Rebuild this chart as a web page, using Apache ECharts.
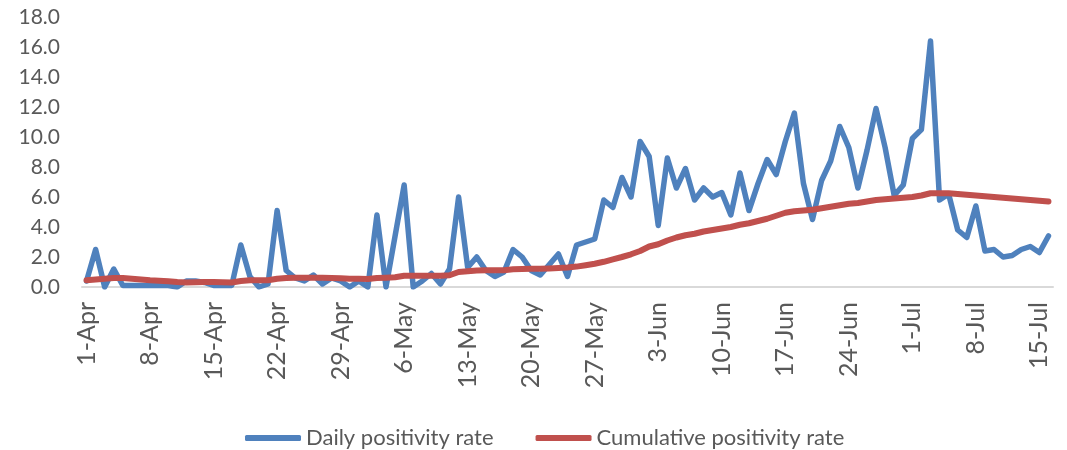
<!DOCTYPE html>
<html>
<head>
<meta charset="utf-8">
<script src="https://cdn.jsdelivr.net/npm/echarts@6/dist/echarts.min.js"></script>
<style>
html,body{margin:0;padding:0;background:#fff;}
#chart{width:1067px;height:450px;}
</style>
</head>
<body>
<div id="chart"></div>
<script>
var categories = [
 '1-Apr','2-Apr','3-Apr','4-Apr','5-Apr','6-Apr','7-Apr','8-Apr','9-Apr','10-Apr',
 '11-Apr','12-Apr','13-Apr','14-Apr','15-Apr','16-Apr','17-Apr','18-Apr','19-Apr','20-Apr',
 '21-Apr','22-Apr','23-Apr','24-Apr','25-Apr','26-Apr','27-Apr','28-Apr','29-Apr','30-Apr',
 '1-May','2-May','3-May','4-May','5-May','6-May','7-May','8-May','9-May','10-May',
 '11-May','12-May','13-May','14-May','15-May','16-May','17-May','18-May','19-May','20-May',
 '21-May','22-May','23-May','24-May','25-May','26-May','27-May','28-May','29-May','30-May','31-May',
 '1-Jun','2-Jun','3-Jun','4-Jun','5-Jun','6-Jun','7-Jun','8-Jun','9-Jun','10-Jun',
 '11-Jun','12-Jun','13-Jun','14-Jun','15-Jun','16-Jun','17-Jun','18-Jun','19-Jun','20-Jun',
 '21-Jun','22-Jun','23-Jun','24-Jun','25-Jun','26-Jun','27-Jun','28-Jun','29-Jun','30-Jun',
 '1-Jul','2-Jul','3-Jul','4-Jul','5-Jul','6-Jul','7-Jul','8-Jul','9-Jul','10-Jul',
 '11-Jul','12-Jul','13-Jul','14-Jul','15-Jul','16-Jul'
];

var dailyRate = [
 0.4,2.5,0.0,1.2,0.1,0.1,0.1,0.1,0.1,0.1,
 0.0,0.4,0.4,0.3,0.1,0.1,0.1,2.8,0.7,0.0,
 0.2,5.1,1.1,0.6,0.4,0.8,0.2,0.6,0.4,0.0,
 0.4,0.0,4.8,0.0,3.4,6.8,0.0,0.4,0.9,0.2,
 1.2,6.0,1.3,2.0,1.1,0.7,1.0,2.5,2.0,1.1,
 0.8,1.5,2.2,0.7,2.8,3.0,3.2,5.8,5.3,7.3,
 6.0,9.7,8.7,4.1,8.6,6.6,7.9,5.8,6.6,6.0,
 6.3,4.8,7.6,5.1,6.9,8.5,7.5,9.7,11.6,6.9,
 4.5,7.1,8.4,10.7,9.3,6.6,9.1,11.9,9.3,6.1,
 6.8,9.9,10.5,16.4,5.8,6.2,3.8,3.3,5.4,2.4,
 2.5,2.0,2.1,2.5,2.7,2.3,3.4
];

var cumulativeRate = [
 0.45,0.5,0.55,0.6,0.6,0.55,0.5,0.45,0.42,0.38,
 0.33,0.3,0.32,0.34,0.34,0.32,0.3,0.4,0.45,0.45,
 0.45,0.55,0.6,0.62,0.62,0.62,0.62,0.6,0.58,0.55,
 0.55,0.53,0.6,0.62,0.65,0.75,0.75,0.75,0.75,0.75,
 0.78,1.0,1.05,1.1,1.12,1.12,1.12,1.18,1.2,1.22,
 1.22,1.24,1.27,1.3,1.36,1.45,1.55,1.68,1.84,2.0,
 2.18,2.4,2.7,2.85,3.1,3.3,3.45,3.55,3.7,3.8,
 3.9,4.0,4.15,4.25,4.4,4.55,4.75,4.95,5.05,5.1,
 5.15,5.25,5.35,5.45,5.55,5.6,5.7,5.8,5.85,5.9,
 5.95,6.0,6.1,6.25,6.25,6.25,6.2,6.15,6.1,6.05,
 6.0,5.95,5.9,5.85,5.8,5.75,5.7
];

var seriesNames = ['Daily positivity rate', 'Cumulative positivity rate'];
var seriesColors = ['#4F81BD', '#C0504D'];

var FONT = 'Lato';
var chart = echarts.init(document.getElementById('chart'), null, {renderer: 'canvas'});
chart.setOption({
  animation: false,
  backgroundColor: '#ffffff',
  grid: {left: 82, right: 14, top: 17, bottom: 163, containLabel: false},
  legend: {
    top: 422,
    left: 240,
    itemWidth: 56,
    itemHeight: 6,
    itemGap: 42,
    icon: 'roundRect',
    textStyle: {fontFamily: FONT, fontSize: 22, color: '#595959'},
    data: seriesNames
  },
  xAxis: {
    type: 'category',
    data: categories,
    boundaryGap: true,
    axisLine: {show: true, lineStyle: {color: '#d9d9d9', width: 2}},
    axisTick: {show: false},
    splitLine: {show: false},
    axisLabel: {
      interval: 6,
      rotate: 90,
      margin: 15,
      fontFamily: FONT,
      fontSize: 25,
      color: '#595959'
    }
  },
  yAxis: {
    type: 'value',
    min: 0,
    max: 18,
    interval: 2,
    axisLine: {show: false},
    axisTick: {show: false},
    splitLine: {show: false},
    axisLabel: {
      margin: 22,
      fontFamily: FONT,
      fontSize: 21,
      color: '#595959',
      formatter: function (v) { return v.toFixed(1); }
    }
  },
  series: [
    {
      name: seriesNames[0],
      type: 'line',
      data: dailyRate,
      symbol: 'none',
      color: seriesColors[0],
      lineStyle: {width: 5.5, color: seriesColors[0], cap: 'round', join: 'round'}
    },
    {
      name: seriesNames[1],
      type: 'line',
      data: cumulativeRate,
      symbol: 'none',
      color: seriesColors[1],
      lineStyle: {width: 6, color: seriesColors[1], cap: 'round', join: 'round'}
    }
  ]
});
</script>
</body>
</html>
